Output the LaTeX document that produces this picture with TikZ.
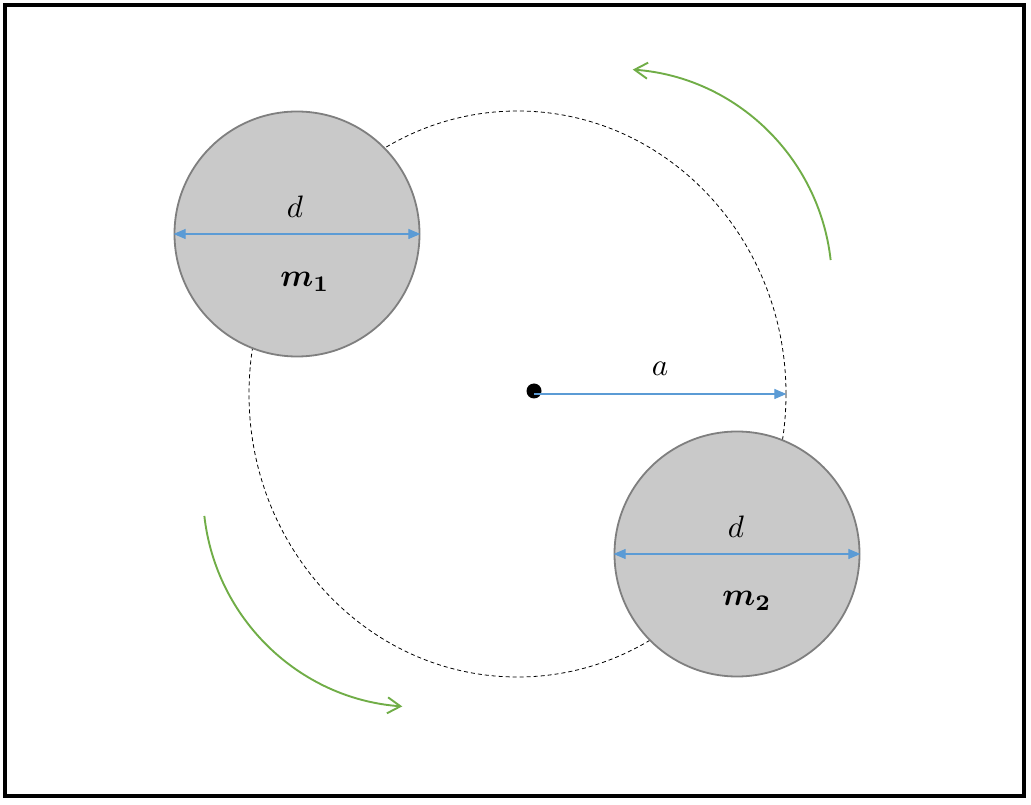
\documentclass[tikz,border=0pt]{standalone}
\usepackage{amsmath,bm,graphicx}
\usetikzlibrary{arrows.meta,shapes.geometric}
\definecolor{bodygray}{HTML}{C9C9C9}
\definecolor{rimgray}{HTML}{7F7F7F}
\definecolor{dimblue}{HTML}{5B9BD5}
\definecolor{spingreen}{HTML}{70AD47}
\newcommand{\dimlbl}[1]{\scalebox{3.1}{$#1$}}
\newcommand{\masslbl}[1]{\scalebox{3.2}{$#1$}}
\tikzset{
  body/.style={circle, draw=rimgray, fill=bodygray, line width=1.8pt, minimum size=245pt, inner sep=0pt},
  dimline/.style={dimblue, line width=1.1pt, {Triangle[length=12pt,width=10pt]}-{Triangle[length=12pt,width=10pt]}},
  spin/.style={spingreen, line width=1.9pt, -{Straight Barb[length=13pt,width=16pt,line width=1.9pt]}},
  lbl/.style={inner sep=0pt}
}
\begin{document}
\begin{tikzpicture}[x=1pt,y=1pt]
    \useasboundingbox (0,0) rectangle (1031,804);
    \draw[line width=3.5pt] (5,8) rectangle (1024,799);

    % Orbit
    \node[ellipse, draw, dashed, line width=0.8pt, dash pattern=on 4pt off 3pt,
      minimum width=537pt, minimum height=566pt, inner sep=0pt] (orbit) at (517.5,410) {};

    % Bodies
    \node[body] (m1) at (297,570) {};
    \node[body] (m2) at (737,250) {};

    % Centre and radius
    \node[circle, fill=black, minimum size=15pt, inner sep=0pt] (ctr) at (534,413) {};
    \coordinate (ctrline) at (534,410);
    \draw[dimblue, line width=1.1pt, -{Triangle[length=12pt,width=10pt]}] (ctrline) -- (orbit.east);
    \node[lbl] (alab) at (660,435) {\dimlbl{a}};

    % Diameters
    \draw[dimline] (m1.west) -- (m1.east);
    \node[lbl] (d1) at ([xshift=-2pt,yshift=27pt]m1.center) {\dimlbl{d}};
    \node[lbl] (mass1) at ([xshift=8pt,yshift=-48pt]m1.center) {\masslbl{\bm{m}_{\mathbf{1}}}};

    \draw[dimline] (m2.west) -- (m2.east);
    \node[lbl] (d2) at ([xshift=-1pt,yshift=27pt]m2.center) {\dimlbl{d}};
    \node[lbl] (mass2) at ([xshift=10pt,yshift=-47pt]m2.center) {\masslbl{\bm{m}_{\mathbf{2}}}};

    % Rotation
    \draw[spin] (617,520) ++(6.4:215) arc (6.4:85.8:215);
    \draw[spin] (418,312) ++(186.4:215) arc (186.4:265.8:215);
\end{tikzpicture}
\end{document}
